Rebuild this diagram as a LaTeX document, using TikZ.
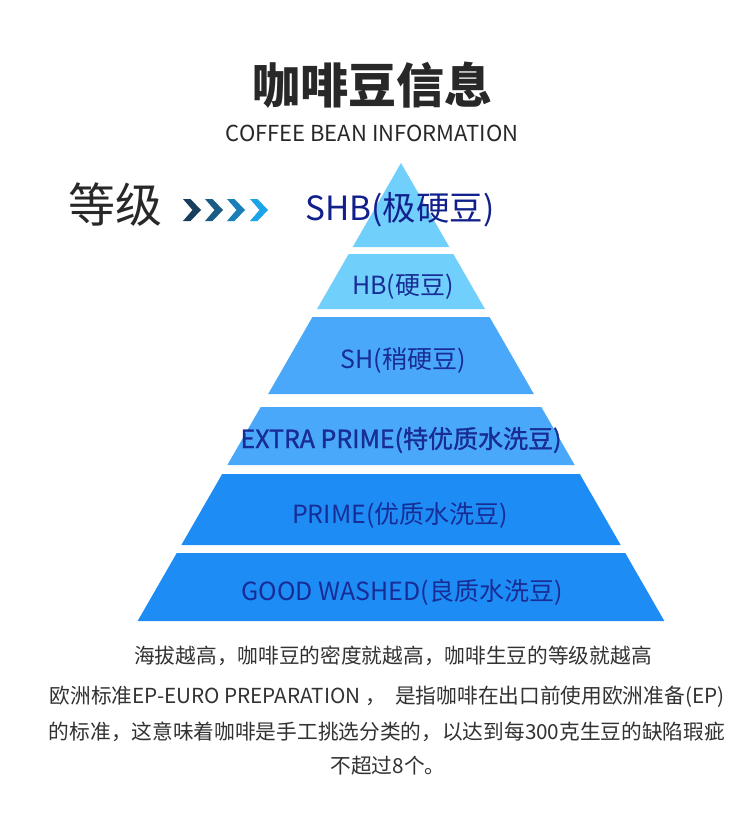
\documentclass[tikz,border=0pt]{standalone}
\usepackage{fontspec}
\newfontfamily\cjk{Noto Sans CJK SC}
\newfontfamily\cjkmed[FakeBold=1.2]{Noto Sans CJK SC}
\definecolor{lightsky}{RGB}{113,207,252}
\definecolor{midsky}{RGB}{74,168,250}
\definecolor{deepsky}{RGB}{30,140,245}
\definecolor{labelblue}{RGB}{24,44,150}
\definecolor{shbblue}{RGB}{18,32,140}
\definecolor{darktext}{RGB}{40,40,40}
\definecolor{bodytext}{RGB}{50,50,50}
\definecolor{chevA}{RGB}{23,62,94}
\definecolor{chevB}{RGB}{28,92,132}
\definecolor{chevC}{RGB}{26,126,184}
\definecolor{chevD}{RGB}{28,164,232}
\newcommand\pyrlayer[3]{%
  \pgfmathsetmacro\hwa{0.575*(#1-163)}%
  \pgfmathsetmacro\hwb{0.575*(#2-163)}%
  \fill[#3] (401-\hwa,#1) -- (401+\hwa,#1) -- (401+\hwb,#2) -- (401-\hwb,#2) -- cycle;}
\newcommand\chevron[2]{%
  \fill[#2] (#1,199) -- (#1+7.5,199) -- (#1+18,210) -- (#1+7.5,221) -- (#1,221) -- (#1+9.5,210) -- cycle;}
\begin{document}
\begin{tikzpicture}[x=1pt,y=-1pt,
  every node/.style={inner sep=0pt,outer sep=0pt},
  titletext/.style={font=\cjk\bfseries\fontsize{48}{56}\selectfont,text=darktext},
  subtitle/.style={font=\cjk\fontsize{22}{26}\selectfont,text=darktext},
  gradetext/.style={font=\cjk\fontsize{47}{55}\selectfont,text=darktext},
  layertext/.style={font=\cjk\fontsize{25}{30}\selectfont,text=labelblue},
  boldlayertext/.style={font=\cjkmed\fontsize{25}{30}\selectfont,text=labelblue},
  shbtext/.style={font=\cjk\fontsize{33.4}{40}\selectfont,text=shbblue},
  bodyline/.style={font=\cjk\fontsize{20.7}{25}\selectfont,text=bodytext}]
\useasboundingbox (0,0) rectangle (750,827);
\fill[white] (0,0) rectangle (750,827);
% title
\node (title) at (372,85) [titletext] {咖啡豆信息};
\node (subtitle) at (372,133) [subtitle] {COFFEE BEAN INFORMATION};
% pyramid
\fill[lightsky] (401,163) -- (449.3,247) -- (352.7,247) -- cycle;
\pyrlayer{254}{309}{lightsky}
\pyrlayer{317}{394}{midsky}
\pyrlayer{407}{465}{midsky}
\pyrlayer{474}{545}{deepsky}
\pyrlayer{553}{621}{deepsky}
% grade label and chevrons
\node (grade) at (115,205) [gradetext] {等级};
\chevron{183}{chevA}
\chevron{205}{chevB}
\chevron{227}{chevC}
\chevron{250}{chevD}
% layer labels
\node (shb) at (400,210) [shbtext] {SHB(极硬豆)};
\node (hb) at (403,287) [layertext] {HB(硬豆)};
\node (sh) at (403,360) [layertext] {SH(稍硬豆)};
\node (ep) at (401,440) [boldlayertext] {EXTRA PRIME(特优质水洗豆)};
\node (prime) at (400,515) [layertext] {PRIME(优质水洗豆)};
\node (good) at (402,592) [layertext] {GOOD WASHED(良质水洗豆)};
% body text
\node (note) at (393,656) [bodyline] {海拔越高，咖啡豆的密度就越高，咖啡生豆的等级就越高};
\node (para1) at (387,697) [bodyline] {欧洲标准EP-EURO PREPARATION ，\ \ 是指咖啡在出口前使用欧洲准备(EP)};
\node (para2) at (387,732) [bodyline] {的标准，这意味着咖啡是手工挑选分类的，以达到每300克生豆的缺陷瑕疵};
\node (para3) at (388,766) [bodyline] {不超过8个。};
\end{tikzpicture}
\end{document}
